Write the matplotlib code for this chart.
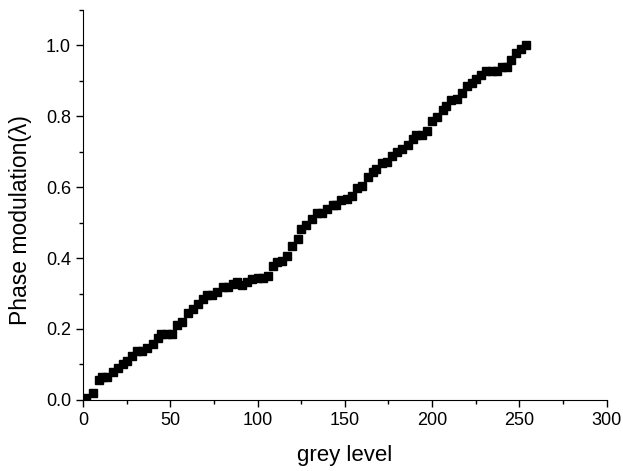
import matplotlib
matplotlib.use("Agg")
import matplotlib.pyplot as plt
from matplotlib.ticker import MultipleLocator

plt.rcParams["font.family"] = ["Liberation Sans", "DejaVu Sans"]

# ── Data ────────────────────────────────────────────────────────
grey_level = [
    2, 6, 9, 11, 14, 17, 20, 23, 25, 28, 31, 34, 37, 40, 43, 45, 48, 51,
    54, 57, 60, 63, 66, 69, 71, 74, 77, 80, 83, 86, 88, 91, 94, 97, 100,
    103, 106, 109, 111, 114, 117, 120, 123, 125, 128, 131, 134, 137, 140,
    143, 145, 148, 151, 154, 157, 160, 163, 166, 168, 171, 174, 177, 180,
    183, 186, 189, 191, 194, 197, 200, 203, 206, 208, 211, 214, 217, 220,
    223, 225, 228, 231, 234, 237, 240, 243, 245, 248, 251, 254,
]
phase = [
    0.005, 0.02, 0.055, 0.065, 0.065, 0.08, 0.09, 0.10, 0.11, 0.125, 0.138,
    0.138, 0.147, 0.158, 0.175, 0.187, 0.187, 0.187, 0.21, 0.22, 0.245,
    0.257, 0.27, 0.285, 0.295, 0.295, 0.304, 0.317, 0.317, 0.328, 0.332,
    0.325, 0.332, 0.34, 0.344, 0.344, 0.35, 0.377, 0.388, 0.393, 0.407,
    0.435, 0.454, 0.482, 0.494, 0.51, 0.527, 0.527, 0.537, 0.549, 0.549,
    0.563, 0.567, 0.576, 0.598, 0.602, 0.628, 0.642, 0.65, 0.668, 0.671,
    0.687, 0.698, 0.707, 0.72, 0.735, 0.748, 0.748, 0.759, 0.788, 0.799,
    0.818, 0.829, 0.846, 0.848, 0.865, 0.886, 0.895, 0.905, 0.916, 0.928,
    0.928, 0.928, 0.94, 0.94, 0.96, 0.977, 0.99, 1.0,
]

fig = plt.figure(figsize=(6.23, 4.71), dpi=100)
ax = fig.add_axes([0.133, 0.151, 0.841, 0.828])

ax.plot(grey_level, phase, linestyle="none", marker="s", markersize=5.5,
        color="black")

ax.set_xlim(0, 300)
ax.set_ylim(0, 1.1)
ax.xaxis.set_major_locator(MultipleLocator(50))
ax.xaxis.set_minor_locator(MultipleLocator(25))
ax.yaxis.set_minor_locator(MultipleLocator(0.1))
ax.set_yticks([0.0, 0.2, 0.4, 0.6, 0.8, 1.0])
ax.yaxis.set_major_formatter(plt.FuncFormatter(lambda v, p: f"{v:.1f}"))

ax.spines["top"].set_visible(False)
ax.spines["right"].set_visible(False)
ax.tick_params(which="major", direction="out", length=5, width=1, labelsize=13)
ax.tick_params(which="minor", direction="out", length=3, width=1)

ax.set_xlabel("grey level", fontsize=16)
ax.set_ylabel("Phase modulation(λ)", fontsize=16.5)
ax.xaxis.set_label_coords(0.5, -0.115)
ax.yaxis.set_label_coords(-0.097, 0.46)

fig.savefig("out.png", dpi=100)
